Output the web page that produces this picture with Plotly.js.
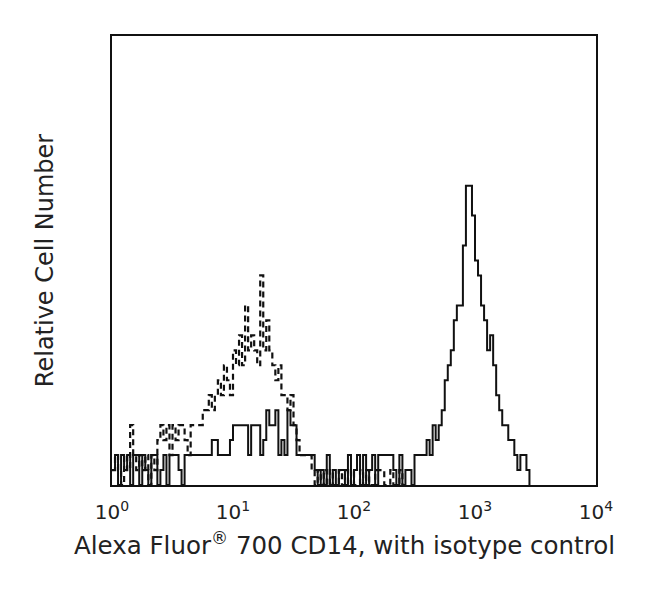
<!DOCTYPE html>
<html>
<head>
<meta charset="utf-8">
<script src="https://cdn.plot.ly/plotly-3.0.1.min.js"></script>
<style>
  html, body { margin: 0; padding: 0; background: #fff; }
  #chart { width: 650px; height: 607px; }
</style>
</head>
<body>
<div id="chart"></div>
<script>
// Histogram resolution: channels per decade on the log fluorescence axis (10^0 .. 10^4)
const channelsPerDecade = 40;
const decades = 4;

// Alexa Fluor 700 CD14 stained cells (solid line), counts per channel
const cd14Counts = [
  1,2,0,2,1,2,0,2,2,0,2,1,0,2,2,0,1,2,0,2,2,2,1,0,2,2,
  2,2,2,2,2,2,2,
  3,3,
  2,2,2,2,
  3,
  4,4,4,4,4,
  2,4,
  4,4,
  2,3,
  5,4,
  4,5,
  2,3,
  2,
  5,4,4,
  2,
  2,2,2,2,2,
  1,0,1,0,2,0,1,0,1,1,0,
  2,0,1,2,0,2,0,1,2,0,
  2,2,2,2,2,
  1,0,
  2,0,1,
  1,0,
  2,2,2,2,
  3,2,
  4,3,4,
  5,7,8,9,11,12,12,16,20,20,18,15,14,12,11,9,10,8,6,5,4,4,3,3,2,1,2,2,1,
  0,0,0,0,0,0,0,0,0,0,0,0,0,0,0,0,0,0,0,0,0,0
];

// Isotype control (dashed line), counts per channel
const isotypeCounts = [
  1,2,1,0,2,1,
  4,2,
  1,2,1,2,0,2,1,
  3,4,3,4,2,
  4,3,4,4,3,2,
  4,4,4,4,
  5,5,6,5,6,
  7,6,
  8,7,6,
  9,8,
  10,8,12,
  9,10,
  9,8,14,9,
  11,9,8,
  7,8,
  6,6,5,6,
  4,3,2,
  2,2,2,1,
  0,1,0,1,0,1,0,0,1,0,1,
  0,1,0,0,1,0,1,0,0,1,
  1,1,0,0,1,0,0,1,0,0,0,0,
  0,0,0,0,0,0,0,0,0,0,0,0,0,0,0,0,0,0,0,0,
  0,0,0,0,0,0,0,0,0,0,0,0,0,0,0,0,0,0,0,0,
  0,0,0,0,0,0,0,0,0,0,0,0,0,0,0,0,0,0,0,0
];

const tickValues = [1, 10, 100, 1000, 10000];
const tickLabels = ['10<sup>0</sup>', '10<sup>1</sup>', '10<sup>2</sup>', '10<sup>3</sup>', '10<sup>4</sup>'];
const xTitle = 'Alexa Fluor<sup>®</sup> 700 CD14, with isotype control';
const yTitle = 'Relative Cell Number';

// channel left edges in fluorescence units
function channelEdge(i) { return Math.pow(10, i / channelsPerDecade); }

// step outline of a histogram, stopping after the last occupied channel
function stepSeries(counts) {
  let last = counts.length - 1;
  while (last > 0 && counts[last] === 0) last--;
  const xs = [], ys = [];
  for (let i = 0; i <= last; i++) { xs.push(channelEdge(i)); ys.push(counts[i]); }
  xs.push(channelEdge(last + 1)); ys.push(0);
  return {xs, ys};
}

const s1 = stepSeries(cd14Counts);
const s2 = stepSeries(isotypeCounts);

const font = 'DejaVu Sans, Arial, sans-serif';

const traces = [
  {
    x: s2.xs, y: s2.ys, type: 'scatter', mode: 'lines',
    line: {shape: 'hv', color: '#111', width: 2.2, dash: '6px,4px'},
    name: 'Isotype control', hoverinfo: 'skip'
  },
  {
    x: s1.xs, y: s1.ys, type: 'scatter', mode: 'lines',
    line: {shape: 'hv', color: '#111', width: 2},
    name: 'CD14', hoverinfo: 'skip'
  }
];

const layout = {
  width: 650, height: 607,
  margin: {l: 112, r: 54, t: 36, b: 122},
  paper_bgcolor: '#fff', plot_bgcolor: '#fff',
  showlegend: false,
  font: {family: font, color: '#222'},
  xaxis: {
    type: 'log', range: [0, decades],
    tickvals: tickValues, ticktext: tickLabels,
    ticks: '', showgrid: false, zeroline: false,
    showline: true, mirror: true, linecolor: '#111', linewidth: 2,
    tickfont: {family: font, size: 20, color: '#222'},
    ticklabelstandoff: 8,
    automargin: false
  },
  yaxis: {
    range: [0, 30],
    showticklabels: false, ticks: '', showgrid: false, zeroline: false,
    showline: true, mirror: true, linecolor: '#111', linewidth: 2,
    title: {text: yTitle, font: {family: font, size: 24, color: '#222'}, standoff: 50},
    automargin: false
  },
  annotations: [{
    text: xTitle, xref: 'paper', yref: 'paper',
    x: 0.481, y: -0.1314, xanchor: 'center', yanchor: 'middle',
    showarrow: false,
    font: {family: font, size: 24.5, color: '#222'}
  }]
};

Plotly.newPlot('chart', traces, layout, {staticPlot: true, displayModeBar: false});
</script>
</body>
</html>
